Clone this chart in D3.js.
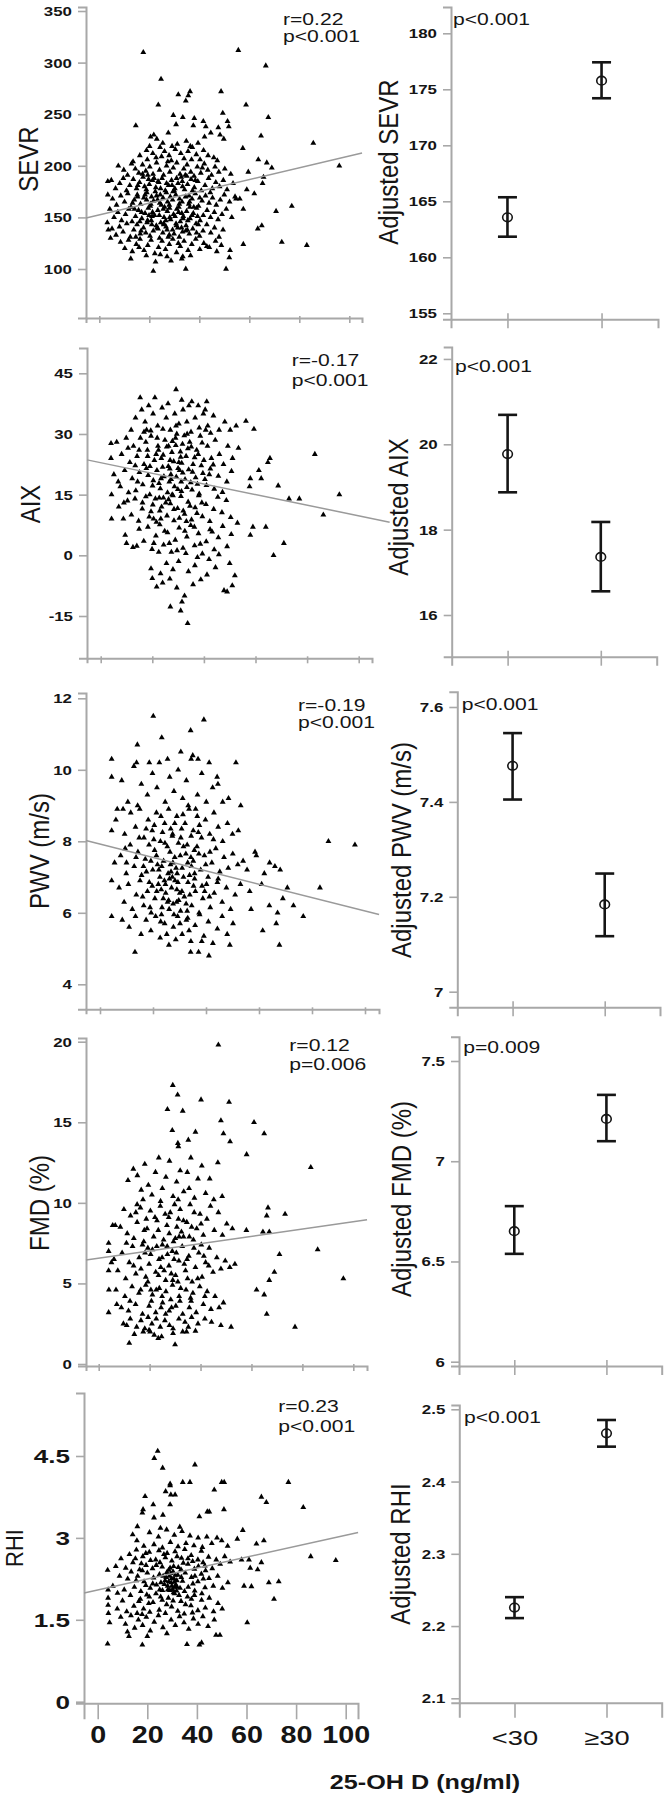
<!DOCTYPE html>
<html><head><meta charset="utf-8">
<script src="https://cdn.jsdelivr.net/npm/d3@7"></script>
<style>body{margin:0;background:#fff} svg{display:block}</style>
</head><body><svg id="c" width="670" height="1800"></svg>
<script>
// ---------------- DATA ----------------
const xTicks = [0, 20, 40, 60, 80, 100];
const categories = ["<30", "≥30"];
const yTitles = ["SEVR", "AIX", "PWV (m/s)", "FMD (%)", "RHI"];
const adjTitles = ["Adjusted SEVR", "Adjusted AIX", "Adjusted PWV (m/s)", "Adjusted FMD (%)", "Adjusted RHI"];
const rStats = ["r=0.22", "r=-0.17", "r=-0.19", "r=0.12", "r=0.23"];
const pScatter = ["p<0.001", "p<0.001", "p<0.001", "p=0.006", "p<0.001"];
const pAdjusted = ["p<0.001", "p<0.001", "p<0.001", "p=0.009", "p<0.001"];
const xTitle = "25-OH D (ng/ml)";

const sevrTicks = [100, 150, 200, 250, 300, 350];
const aixTicks = [-15, 0, 15, 30, 45];
const pwvTicks = [4, 6, 8, 10, 12];
const fmdTicks = [0, 5, 10, 15, 20];
const rhiTicks = [0, 1.5, 3, 4.5];
const sevrAdjTicks = [155, 160, 165, 170, 175, 180];
const aixAdjTicks = [16, 18, 20, 22];
const pwvAdjTicks = [7, 7.2, 7.4, 7.6];
const fmdAdjTicks = [6, 6.5, 7, 7.5];
const rhiAdjTicks = [2.1, 2.2, 2.3, 2.4, 2.5];

const sevrFit = [[-5.3, 149.4], [105.1, 212.4]];
const aixFit = [[-5.3, 23.6], [112, 8.2]];
const pwvFit = [[-5.3, 8.02], [105.3, 5.95]];
const fmdFit = [[-5, 6.45], [105.4, 8.95]];
const rhiFit = [[-5.5, 1.99], [105, 3.1]];

const sevrAdjMean = [163.57, 175.77], sevrAdjLow = [161.84, 174.2], sevrAdjHigh = [165.36, 177.41];
const aixAdjMean = [19.77, 17.36], aixAdjLow = [18.875, 16.555], aixAdjHigh = [20.69, 18.18];
const pwvAdjMean = [7.476, 7.184], pwvAdjLow = [7.405, 7.117], pwvAdjHigh = [7.545, 7.249];
const fmdAdjMean = [6.651, 7.211], fmdAdjLow = [6.538, 7.1], fmdAdjHigh = [6.776, 7.331];
const rhiAdjMean = [2.2256, 2.4668], rhiAdjLow = [2.211, 2.4483], rhiAdjHigh = [2.24, 2.4852];

const sevrPoints = [
[17.6,310],[55.6,312],[66.6,297],[24.7,284],[48.7,272],[36.3,272],[35.6,268],[31.6,269],[23.6,259],[34.6,263],[58.7,259],[49.4,251],[67.6,247],[29.6,249],[33.4,247],[14.6,239],[38,246],[41.6,243],[37.6,239],[30.7,240],[42.6,238],[47.6,237],[51.3,243],[51.8,238],[64.7,229],[85.6,222],[57.4,217],[96,200],[63.6,206],[67,203],[69,198],[59.6,194],[65.7,189],[65.3,183],[59,177],[62,173],[54.7,168],[56.2,168],[77,161],[70.7,156],[57.6,158],[65,142],[63.4,139],[73,126],[83,123],[57.6,124],[52.3,118],[52,111],[50.7,100],[34.6,100],[21.6,98],[22.5,107],[28.7,108],[12.6,110],[33,110],[33.4,112],[3.2,145],[3.6,138],[3.4,185],[3.4,172],[4.5,130],[43,122],[47,117],
[20.5,228],[21.8,230],[23,226],[27.6,232],[31.2,221],[34.8,224],[36.4,219],[39.5,222],[42.1,228],[44.6,232],[48.3,230],[49.8,226],[25.4,222],[29.1,219],
[13.5,204],[16.2,210],[18.9,215],[21.4,212],[22.7,208],[24.3,218],[26.1,214],[27.9,210],[30.4,216],[32.6,212],[33.9,207],[35.5,214],[37.2,218],[38.8,211],[40.3,206],[41.7,215],[43.5,210],[45.8,208],[47.2,205],[20.1,219],[28.8,205],[36.9,206],[19.2,206],[24.9,209],
[7.6,200],[9.8,196],[11.3,191],[12.9,202],[14.4,197],[15.8,193],[17.3,201],[18.6,195],[20.2,199],[21.5,192],[22.9,203],[24.1,196],[25.7,191],[26.9,200],[28.2,194],[29.6,198],[31,203],[32.3,192],[33.8,197],[35.1,201],[36.6,194],[37.9,190],[39.2,199],[40.6,193],[42,202],[43.4,196],[44.9,191],[46.3,199],[47.8,194],[50.2,197],[52.6,192],[19.4,191],[27.4,204],[34.4,191],[41.2,198],
[4.8,186],[6.5,178],[8.2,183],[9.6,188],[10.9,176],[12.2,181],[13.6,187],[14.9,178],[16.1,184],[17.5,189],[18.8,177],[20,182],[21.3,186],[22.6,179],[23.8,184],[25.1,188],[26.4,176],[27.7,181],[28.9,186],[30.2,178],[31.5,183],[32.8,189],[34.1,177],[35.3,182],[36.7,187],[38,179],[39.4,185],[40.8,176],[42.3,181],[43.7,188],[45.2,178],[46.6,184],[48.1,180],[49.6,186],[51.1,177],[53.5,183],[15.4,181],[24.5,178],[33.2,185],[29.9,176],[19.7,187],[37.3,176],
[5.3,168],[6.9,162],[8.6,171],[10.1,165],[11.4,173],[12.7,160],[14,167],[15.2,172],[16.5,163],[17.8,169],[19,174],[20.4,161],[21.7,166],[22.9,171],[24.2,164],[25.5,169],[26.8,174],[28,162],[29.3,167],[30.6,172],[31.8,160],[33.1,165],[34.5,170],[35.8,163],[37.1,168],[38.4,173],[39.7,161],[41.1,166],[42.5,171],[43.9,164],[45.3,169],[46.8,162],[48.4,167],[50,172],[52.1,165],[54.3,170],[13.3,164],[18.3,172],[23.3,167],[27.3,165],[32.1,168],[36.2,160],[40.2,169],[44.4,174],[20.9,170],[26.1,160],
[4.2,158],[5.9,150],[7.4,155],[8.9,147],[10.5,153],[11.8,158],[13.1,146],[14.5,151],[15.7,157],[17,149],[18.3,154],[19.6,159],[20.8,147],[22.1,152],[23.4,157],[24.6,145],[25.9,150],[27.2,156],[28.5,148],[29.7,153],[31,158],[32.4,146],[33.6,151],[34.9,156],[36.3,149],[37.6,154],[38.9,159],[40.3,147],[41.6,152],[43.1,157],[44.5,150],[46,155],[47.5,148],[49.1,153],[50.8,158],[53,150],[16.2,146],[21.3,155],[26.6,147],[30.3,151],[35.4,147],[39.3,151],[14.1,158],[24,152],[28.1,159],[33,154],
[5.1,139],[6.7,133],[8.1,141],[9.5,136],[11,144],[12.4,131],[13.8,138],[15.1,143],[16.4,134],[17.7,140],[19.1,145],[20.3,132],[21.6,137],[22.8,142],[24.1,130],[25.4,135],[26.7,141],[28,133],[29.3,138],[30.7,144],[32,131],[33.3,136],[34.7,142],[36,134],[37.4,139],[38.7,144],[40.1,132],[41.5,137],[43,143],[44.6,135],[46.1,140],[47.9,131],[49.5,138],[18.6,135],[23.5,139],[27.6,131],[31.4,140],[35.2,138],[14.6,131],[21,143],[25.8,144],[29.9,134],
[8.5,126],[10.2,120],[11.7,128],[13.2,117],[14.8,124],[16.3,129],[17.9,118],[19.4,123],[20.7,128],[22.2,115],[23.7,121],[25.1,127],[26.5,119],[28,124],[29.4,129],[30.9,116],[32.4,122],[33.9,127],[35.5,118],[37,124],[38.6,129],[40.2,119],[41.8,125],[44,121],[46.5,127],[48.8,123],[18.8,113],[24.4,114],[27.1,112],[31.6,125],[36.5,113],[15.9,121],
[15.3,170],[16.9,155],[18.1,180],[19.3,147],[20.6,163],[21.9,188],[23.1,140],[24.4,172],[25.6,158],[26.9,183],[28.2,150],[29.5,175],[30.8,142],[32,163],[33.3,180],[34.6,137],[35.9,171],[37.1,152],[38.4,186],[39.6,143],[16.7,137],[18.9,167],[21.1,151],[23.5,185],[25.8,143],[28.4,170],[30.9,188],[33.5,149],[36.1,165],[38.9,135],[17.3,192],[22.4,175],[27.1,138],[31.7,155],[35,190],[19.9,152],[24.8,162],[29.1,181],[32.9,140],[37.8,160]
];

const aixPoints = [
[29.2,41],[31.4,38.4],[15.3,39],[21,39],[35.3,38],[37.8,37],[41.1,38],[40.5,36],[56.3,33.2],[59.4,31.2],[83,25],[65.6,24],[64.8,23],[61.3,21],[62.2,19],[58,19],[57.7,17],[68.8,17.2],[73,14],[77,14],[92.5,15],[86.3,10],[53,8],[59,7],[64,7],[58,5],[71,3],[67,0],[52,-5],[51,-7.5],[49,-9],[47.8,-8.7],[50,-2],[33.7,-16.8],[27,-12.7],[31,-13.7],[31.5,-11.5],[32.5,-10],[21.7,-7.8],[24,-6.8],[20,-5.7],[19.5,-3.3],[4.2,9],[4.2,15],[4,24],[4,27.7],[10,3],[14,2.3],[9,13],[6.8,18.2],
[25.5,-2],[28,-3.5],[30.2,-1.5],[34,-4],[36.5,-2.5],[38.8,-6],[23.2,-4.5],[42,-1],[44.5,-3],[26.8,-5.8],[33,0.5],[37.5,-0.5],[22.5,0.8],[45.8,0.2],[29.5,-8],[35.8,-7.2],[41.2,-4.8],
[13.5,34],[15.9,36],[17.2,33],[18.6,37],[20.3,35],[22.1,32],[23.8,36.5],[25.4,34],[27,31],[28.7,35],[30.3,32.5],[31.9,36],[33.4,33],[35,30.5],[36.6,34],[38.2,31.5],[39.8,35],[41.5,32],[43.7,34.5],[45.9,31],[48.1,33],[50.2,31],[52.5,32],[11.8,31],[16.8,30.5],[26.1,37.5],[29.5,30],[34.2,37],[19.4,30.8],[42.6,30.2],
[6.2,28],[8.1,25],[9.9,29],[11.3,23],[12.7,27],[14.1,24.5],[15.4,29],[16.8,22.5],[18.1,26],[19.5,29.5],[20.8,23.5],[22.2,27],[23.5,24],[24.9,28.5],[26.2,22],[27.6,25.5],[29,29],[30.3,23],[31.7,27.5],[33.1,24.5],[34.5,28],[35.8,22.5],[37.2,26],[38.6,29.5],[40,23.5],[41.4,27],[42.9,24],[44.4,28.5],[46,25],[47.6,22.5],[49.3,27],[51.1,24],[53.4,26.5],[13.4,22.2],[17.5,28],[21.5,25],[25.6,26.8],[28.3,23.2],[32.4,29.6],[36.4,24.2],[39.3,27.8],[43.6,22.4],[10.6,26.5],[30.9,25.6],[27.8,28.2],[24.2,24.8],
[5.1,20],[7.6,17],[9.3,21],[10.8,15.5],[12.2,19],[13.6,16],[15,20.5],[16.3,17.5],[17.7,21.5],[19,15],[20.4,18.5],[21.8,21],[23.1,16.5],[24.5,19.5],[25.9,15.5],[27.2,20],[28.6,17],[30,21.5],[31.3,15.8],[32.7,18.8],[34.1,21.2],[35.4,16.2],[36.8,19.2],[38.2,15.2],[39.6,20.3],[41,17.3],[42.5,21.4],[44,16.4],[45.6,19.6],[47.2,15.6],[48.9,18.2],[50.7,20.8],[14.3,18.2],[18.4,19.8],[22.6,17.8],[26.6,18.2],[29.3,19.4],[33.4,16.8],[37.5,17.6],[40.4,18.8],[24,21.8],[31.8,20.4],
[7,12],[8.8,9],[10.4,13.5],[11.9,10],[13.3,14],[14.7,8.5],[16.1,11.5],[17.5,14.5],[18.8,9.5],[20.2,12.5],[21.6,8.2],[22.9,11],[24.3,14.2],[25.7,9.8],[27,12.8],[28.4,8.6],[29.8,11.6],[31.1,14.6],[32.5,10.2],[33.9,13.2],[35.2,8.8],[36.6,11.8],[38,14.8],[39.4,9.6],[40.8,12.6],[42.3,8.4],[43.8,11.4],[45.4,14.4],[47,10.6],[48.7,13.6],[50.4,9.4],[19.5,10.8],[26.3,13.8],[30.5,9.2],[34.6,12.2],[37.3,10.4],[23.6,12],[28,14.8],
[9.5,5],[12.5,2],[14.9,6.5],[16.7,3.5],[18.3,7],[19.9,1.5],[21.4,4.8],[22.9,7.6],[24.4,2.6],[25.9,5.6],[27.4,0.8],[28.9,3.8],[30.4,6.8],[31.9,1.8],[33.4,4.6],[34.9,7.4],[36.4,2.4],[37.9,5.4],[39.4,0.4],[40.9,3.4],[42.4,6.4],[44,1.4],[45.6,4.4],[47.3,7.2],[49,2.2],[50.6,5.2],[26.6,3],[32.6,6],[38.6,2.8],[43.2,5.8],[20.6,3],[29.6,1.2],
[22.4,26],[26.9,23.5],[29.1,27.2],[31.4,22.8],[27.3,18.8],[25.2,13],[23.3,9],[33.8,26.4],[35.6,20.6],[21.2,14],[29.9,16.3],[31,24.3],
[14.9,26],[16.2,13],[17.8,31],[19.1,22],[20.5,9],[21.9,29],[23.4,19],[24.8,6],[26.3,27],[27.7,15],[29.2,32],[30.6,21],[32,11],[33.5,30],[34.9,18],[36.3,7],[37.8,25],[39.2,13],[40.7,31],[42.1,20],[18.2,24.5],[22.7,14.2],[26.8,21.4],[31.2,18.2],[35.1,26.8],[39,22.2],[28.4,11.4],[33.2,8.4],[24.1,31.2],[20.1,17.2]
];

const pwvPoints = [
[20.1,11.5],[39.2,11.4],[34.2,11.1],[23.3,10.9],[14.1,10.7],[4.4,10.3],[4.4,9.8],[8.2,9.7],[35,10.4],[34.4,10.3],[41.2,10.2],[51.3,10.2],[44.2,9.8],[44.5,9.6],[53.1,9.0],[4.4,8.3],[4.4,6.9],[4.4,5.9],[9.5,7.8],[10,7.4],[86.2,8.0],[96.2,7.9],[83,6.7],[76.7,5.9],[73,6.2],[70.7,6.7],[69,6.4],[67,6.0],[66.5,5.7],[67.7,5.1],[64,7.4],[66,7.3],[68,7.2],[62,7.1],[61,6.8],[58.5,7.7],[59,7.6],[61.4,5.5],[63.9,6.2],[13.2,4.9],[34.2,4.9],[37.2,4.9],[41.1,4.8],[49,5.1],[57,6.1],[55.5,7.2],[56.5,6.6],
[12.8,10.1],[15.6,9.6],[17.9,9.3],[19.8,9.9],[21.5,9.5],[22.4,10.2],[24.6,9.1],[26.3,9.8],[27.9,9.4],[29.5,10],[31.2,9.2],[32.6,9.7],[36.8,9.3],[38.4,9.9],[40.1,9.1],[42.5,9.5],[46.3,9.1],[48.5,9.2],[10.5,9.1],[8.7,8.9],[6.5,8.9],[14.2,9.0],[13.8,10.2],[25.5,10.3],[30.5,10.5],[33.3,9],[37,10.3],[18.6,10.2],
[6,8.6],[9.3,8.2],[11.6,8.8],[13.4,8.4],[15,8.9],[16.6,8.1],[18.2,8.6],[19.7,8.3],[21.3,8.8],[22.8,8.0],[24.4,8.5],[25.9,8.9],[27.4,8.2],[29,8.7],[30.5,8.1],[32.1,8.5],[33.6,8.9],[35.2,8.3],[36.7,8.7],[38.3,8.1],[39.8,8.6],[41.4,8.2],[43,8.8],[44.6,8.4],[46.3,8.0],[48.1,8.5],[50,8.2],[52.2,8.3],[20.5,8.45],[26.7,8.35],[31.3,8.75],[34.4,8.15],[28.2,8.5],[23.6,8.25],[17.4,8.35],[37.5,8.45],
[5.5,7.4],[7.8,7.6],[9.9,7.1],[11.4,7.9],[12.9,7.3],[14.3,7.7],[15.7,7.05],[17.1,7.5],[18.5,7.9],[19.9,7.2],[21.3,7.6],[22.6,7.0],[24,7.45],[25.4,7.85],[26.8,7.15],[28.2,7.55],[29.6,7.95],[31,7.25],[32.4,7.65],[33.8,7.05],[35.2,7.45],[36.6,7.85],[38,7.2],[39.4,7.6],[40.8,7.0],[42.2,7.4],[43.7,7.8],[45.2,7.15],[46.8,7.55],[48.4,7.25],[50.1,7.65],[52,7.35],[54,7.45],[16.4,7.3],[20.6,7.75],[23.3,7.3],[27.5,7.4],[30.3,7.6],[34.5,7.3],[37.3,7.65],[41.5,7.7],[25.7,7.1],[32.9,7.9],[29.1,7.1],[19.2,7.45],[13.6,7.55],
[7.2,6.7],[9.1,6.3],[10.7,6.8],[12.2,6.1],[13.7,6.5],[15.1,6.9],[16.5,6.2],[17.9,6.6],[19.3,6.0],[20.7,6.4],[22,6.8],[23.4,6.15],[24.8,6.55],[26.2,6.95],[27.6,6.25],[29,6.65],[30.4,6.05],[31.8,6.45],[33.2,6.85],[34.6,6.2],[36,6.6],[37.4,6.0],[38.8,6.4],[40.2,6.8],[41.6,6.15],[43.1,6.55],[44.6,6.95],[46.1,6.3],[47.7,6.7],[49.3,6.1],[51,6.5],[53,6.8],[21.4,6.6],[25.5,6.3],[28.3,6.9],[32.5,6.25],[35.3,6.75],[39.5,6.6],[18.6,6.85],[23.9,6.4],[27,6.7],[30.9,6.6],[26.1,6.1],[29.7,6.35],[33.9,6.5],[24.3,6.9],
[8.4,5.8],[11,5.6],[13.4,5.9],[15.5,5.4],[17.4,5.8],[19.2,5.5],[21,5.9],[22.7,5.3],[24.4,5.7],[26,5.1],[27.7,5.6],[29.3,5.9],[31,5.4],[32.6,5.8],[34.3,5.2],[35.9,5.65],[37.6,5.95],[39.2,5.35],[40.9,5.75],[42.6,5.15],[44.3,5.55],[46.1,5.9],[48,5.4],[50.2,5.7],[25.2,5.4],[28.6,5.25],[33.6,5.5],[38.4,5.2],[23.2,5.95],[30.2,5.7],
[22.2,7.2],[24.7,6.8],[27.3,7.0],[28.9,6.3],[31.5,7.0],[33.1,7.4],[35.7,7.1],[26.4,7.7],[23,8.7],[36.1,8.9],
[14.8,8.1],[16.1,6.45],[17.5,7.15],[18.9,6.15],[20.3,8.05],[21.7,7.35],[23.1,6.65],[24.5,7.95],[25.9,6.35],[27.3,8.15],[28.7,7.25],[30.1,6.55],[31.5,7.85],[32.9,6.05],[34.3,7.55],[35.7,6.95],[37.1,8.25],[38.5,6.75],[39.9,7.35],[41.3,6.45],[42.8,8.05],[44.3,6.85],[22.9,5.75],[27.9,5.95],[33.1,5.85],[19.7,6.75],[26.6,7.35],[30.8,8.35],[35.6,7.75],[29.4,6.85]
];

const fmdPoints = [
[47,19.8],[29.1,17.3],[31,16.7],[40.2,16.4],[51.2,16.25],[27,15.8],[33,15.7],[48,15.1],[61,15],[65,14.3],[28.9,14.5],[38,14.4],[49,14.3],[51.6,13.8],[35.2,13.9],[31.1,13.7],[31.3,13.5],[58.1,13.0],[83.3,12.2],[73.2,9.3],[66.5,9.7],[66,9.2],[58,8.3],[64.5,8.2],[67,8.2],[86,7.1],[71,6.8],[69,5.7],[67,5.2],[96.1,5.3],[62,4.6],[65,4.3],[66,3.1],[77.1,2.3],[48,2.4],[52,2.3],[12,1.3],[30,1.2],[14,1.85],[11,2.4],[23.4,1.6],[24.7,1.7],[29.2,2.2],[29.2,1.9],[33,2],[34.5,2],[20.2,2],[3.9,7.5],[3.9,7],[3.9,5.8],[4.0,4.6],[3.9,3.2],[7.1,3.7],[6,6.5],[5.5,8.6],
[11.5,11.4],[13.6,12.1],[15.2,11.7],[16.7,10.8],[18.1,12.4],[19.5,11.1],[20.9,10.5],[22.3,11.9],[23.6,12.8],[25,10.9],[26.4,11.6],[27.8,12.6],[29.2,10.4],[30.6,11.3],[32,12],[33.4,10.7],[34.8,11.9],[36.2,12.8],[37.6,10.3],[39,11.5],[40.5,12.3],[42,10.6],[43.6,11.5],[45.2,10.2],[46.8,12.5],[48.5,10.4],[17.4,10.2],[24.3,10.1],[31.2,10.2],[35.5,10.9],
[6.5,8.6],[8.5,8.5],[9.9,9.6],[11.2,8.1],[12.5,9.2],[13.8,7.8],[15.1,8.8],[16.4,9.7],[17.7,7.6],[19,8.4],[20.3,9.5],[21.6,7.9],[22.9,8.9],[24.2,9.8],[25.5,7.7],[26.8,8.6],[28.1,9.4],[29.4,7.6],[30.7,8.5],[32,9.6],[33.3,7.9],[34.6,8.8],[35.9,9.9],[37.2,7.7],[38.5,8.4],[39.8,9.3],[41.1,8.0],[42.5,9.0],[43.9,9.8],[45.4,8.3],[47,9.4],[48.6,8.0],[50.3,8.7],[52.5,8.4],[14.6,9.4],[18.7,9.0],[23.4,8.3],[27.5,9.1],[31.6,7.9],[36.5,8.5],[40.2,8.7],[29.8,9.9],
[5,6.3],[7.5,5.8],[9.2,6.9],[10.6,5.3],[12,6.3],[13.3,7.3],[14.6,5.6],[15.9,6.6],[17.2,7.4],[18.5,5.4],[19.8,6.2],[21.1,7.1],[22.4,5.7],[23.7,6.5],[25,7.4],[26.3,5.2],[27.6,6.1],[28.9,7],[30.2,5.5],[31.5,6.4],[32.8,7.3],[34.1,5.8],[35.4,6.7],[36.7,5.1],[38,6],[39.3,6.9],[40.6,5.4],[42,6.3],[43.4,7.2],[44.9,5.7],[46.4,6.6],[48,5.9],[49.7,6.4],[51.5,6],[53.5,6.2],[16.6,5.9],[20.4,6.8],[24.4,6],[29.6,6.5],[33.6,6.2],[37.4,7.2],[41.3,6.7],[27,6.8],[31.1,5.1],[25.7,5.8],
[6.8,4.6],[8.9,3.5],[10.3,4.2],[11.7,3.3],[13.1,4.8],[14.5,3.7],[15.8,4.4],[17.2,3.1],[18.5,4.9],[19.8,3.6],[21.1,4.3],[22.4,3.2],[23.8,4.7],[25.1,3.8],[26.4,4.5],[27.7,3.3],[29,4.9],[30.3,3.6],[31.6,4.2],[33,3.1],[34.3,4.6],[35.6,3.5],[37,4.4],[38.3,3.2],[39.7,4.8],[41.1,3.7],[42.6,4.5],[44.1,3.4],[45.7,4.2],[47.3,3.5],[49,3.8],[20.5,4.6],[28.3,4.0],[24.5,3.5],[32.2,4.7],[36.3,3.9],
[9.7,2.5],[12.4,2.8],[14.9,2.3],[16.6,2.7],[18.1,2.2],[19.4,2.9],[20.9,2.5],[22.6,2.8],[24.2,2.3],[26,2.7],[27.8,2.4],[31.5,2.8],[33.9,2.6],[36.5,2.9],[39,2.5],[41.7,2.8],[44.3,2.6],[17.5,2.0],[19.8,2.1],[21.8,1.8],[38,2.05],[35.2,2.3],
[22.8,7.3],[26.1,9.3],[28.5,5.6],[30.1,7.8],[32.5,8.2],[34.9,5.3],[19.3,7.2],[24.9,4.2],
[10.9,7.5],[12.3,3.9],[13.7,6.1],[15.1,9.9],[16.5,4.6],[17.9,8.3],[19.3,5.1],[20.7,3.9],[22.1,9.1],[23.5,5.5],[24.9,6.6],[26.3,3.1],[27.7,8.1],[29.1,5.2],[30.5,6.9],[31.9,3.9],[33.3,8.9],[34.7,6.5],[36.1,4.1],[37.5,9.4],[38.9,5.3],[40.3,7.4],[41.7,4.2],[43.2,6.1],[18.2,6.9],[22.6,4.6],[26.9,7.3],[31.3,9.0],[35.6,7.9],[28.6,3.5]
];

const rhiPoints = [
[24.2,4.59],[22.8,4.46],[26.2,4.28],[39.2,4.34],[29.2,3.99],[29.2,3.96],[34.3,4.02],[37.2,4.02],[50,4.02],[51,4.02],[76.9,4.02],[47,3.88],[27.4,3.85],[29.5,3.79],[31.2,3.79],[19.1,3.76],[29.2,3.61],[22.4,3.61],[66,3.75],[68,3.65],[82.9,3.56],[18.3,3.52],[18,3.46],[44.2,3.48],[45,3.48],[50.9,3.52],[22.7,3.37],[26.3,3.42],[41,3.39],[16,3.21],[14.1,3.06],[58.5,3.14],[56.3,2.98],[64,2.89],[67,2.95],[85.9,2.66],[96,2.59],[58,2.6],[61,2.6],[61.5,2.45],[66,2.55],[64.5,2.42],[69,2.18],[73,2.2],[59,2.12],[62,2.11],[71.1,1.88],[60.3,1.45],[4,2.41],[4.2,2.05],[4.2,1.9],[4.2,1.77],[4.3,1.62],[4.8,1.45],[4,1.06],[18,1.04],[20,1.2],[36,1.05],[41,1.04],[41.9,1.08],[47.7,1.22],[49.3,1.22],[12.6,1.2],[12,1.28],[8,1.99],
[15.8,2.95],[18.6,2.85],[20.9,3.1],[22.7,2.88],[24.5,3.02],[26.1,2.82],[27.8,3.15],[29.3,2.92],[30.9,3.05],[32.4,2.84],[34,3.12],[35.6,2.9],[37.2,3.04],[38.8,2.86],[40.5,3.0],[42.2,2.83],[44,3.02],[46,2.9],[48.1,3.0],[50,2.95],[52.4,2.85],[33.1,3.2],[25.3,3.18],
[7.3,2.48],[9.4,2.62],[11.3,2.45],[12.8,2.7],[14.2,2.55],[15.6,2.78],[16.9,2.42],[18.2,2.66],[19.5,2.5],[20.8,2.74],[22.1,2.44],[23.4,2.6],[24.7,2.77],[26,2.47],[27.3,2.64],[28.6,2.41],[29.9,2.58],[31.2,2.75],[32.5,2.46],[33.8,2.63],[35.1,2.79],[36.4,2.52],[37.7,2.68],[39,2.43],[40.4,2.6],[41.8,2.76],[43.2,2.49],[44.7,2.65],[46.2,2.44],[47.8,2.6],[49.4,2.52],[51.2,2.66],[53.4,2.56],[17.6,2.53],[21.3,2.59],[25.1,2.55],[28,2.72],[30.6,2.48],[34.5,2.54],[38.3,2.57],[42.5,2.55],[26.7,2.7],[32,2.66],
[6.1,2.12],[8.8,2.3],[10.7,2.05],[12.1,2.25],[13.5,2.38],[14.8,2.1],[16.1,2.3],[17.4,2.02],[18.7,2.2],[20,2.36],[21.2,2.08],[22.5,2.27],[23.7,2.14],[24.9,2.33],[26.1,2.04],[27.2,2.22],[28.2,2.12],[28.9,2.3],[29.6,2.18],[30.2,2.06],[30.8,2.25],[31.5,2.14],[32.3,2.32],[33.2,2.08],[34.2,2.21],[35.3,2.36],[36.5,2.1],[37.8,2.28],[39.1,2.03],[40.4,2.2],[41.8,2.34],[43.3,2.09],[44.9,2.26],[46.6,2.12],[48.4,2.3],[50.3,2.08],[52.5,2.18],[29.1,2.04],[30.4,2.38],[31.9,2.22],[27.9,2.37],[33.7,2.28],[25.5,2.18],[19.4,2.13],[15.5,2.22],[38.4,2.16],[42.6,2.25],[29.8,2.26],[31.1,2.1],[28.6,2.2],
[7.9,1.7],[10,1.85],[11.7,1.65],[13.2,1.95],[14.6,1.75],[15.9,1.62],[17.2,1.88],[18.5,1.7],[19.8,1.96],[21,1.64],[22.3,1.82],[23.5,1.98],[24.8,1.68],[26,1.86],[27.3,1.62],[28.5,1.9],[29.8,1.74],[31,1.98],[32.3,1.66],[33.6,1.84],[34.9,1.61],[36.2,1.92],[37.6,1.76],[39,1.95],[40.4,1.67],[41.9,1.86],[43.4,1.72],[45,1.9],[46.7,1.65],[48.5,1.8],[50.2,1.7],[17.9,1.6],[20.6,1.8],[25.4,1.92],[30.4,1.85],[35.4,1.78],[38.2,1.63],
[9.3,1.55],[11.2,1.42],[13.4,1.58],[14.9,1.35],[16.4,1.5],[18.1,1.4],[19.6,1.55],[21.2,1.3],[22.8,1.46],[24.5,1.58],[26.3,1.36],[27.9,1.25],[29.6,1.5],[31.3,1.4],[33,1.56],[34.8,1.45],[36.7,1.33],[38.6,1.52],[40.5,1.42],[42.4,1.56],[44.5,1.38],[47,1.5],
[15.2,2.62],[16.6,1.84],[18,2.4],[19.4,2.72],[20.8,1.92],[22.2,2.16],[23.6,2.5],[25,2.05],[26.4,2.3],[27.8,1.78],[29.2,2.45],[29.9,2.12],[30.6,2.0],[31.3,2.32],[32,2.1],[32.8,1.95],[33.6,2.42],[35,2.02],[36.4,2.62],[37.8,1.88],[39.2,2.3],[40.6,2.48],[42,1.98],[43.5,2.4],[28.3,2.05],[29.5,2.35],[30.9,2.19],[27.6,2.28],[31.8,2.03],[26.9,2.15]
];

// ---------------- LAYOUT ----------------
const rows = [
  { pts: sevrPoints, fit: sevrFit, yt: sevrTicks, adj: [sevrAdjMean, sevrAdjLow, sevrAdjHigh], at: sevrAdjTicks,
    L: {ax: 86, top: 7, bot: 318, right: 362, x0: 99.3, x100: 349.3, yA: [100, 269], yB: [350, 11], tx: 38, ty: 159, rx: 283, r1: 25, r2: 42},
    R: {ax: 451, top: 7, bot: 319.3, right: 658, yA: [155, 313.3], yB: [180, 33.3], tx: 398, ty: 162, px: 453, py: 25} },
  { pts: aixPoints, fit: aixFit, yt: aixTicks, adj: [aixAdjMean, aixAdjLow, aixAdjHigh], at: aixAdjTicks,
    L: {ax: 87, top: 348, bot: 658.3, right: 372, x0: 100.7, x100: 358.7, yA: [-15, 616], yB: [45, 373.3], tx: 40, ty: 504, rx: 291.7, r1: 366, r2: 386},
    R: {ax: 451.7, top: 347, bot: 656.7, right: 656.7, yA: [16, 615], yB: [20, 444.3], tx: 408, ty: 507, px: 455, py: 371.7} },
  { pts: pwvPoints, fit: pwvFit, yt: pwvTicks, adj: [pwvAdjMean, pwvAdjLow, pwvAdjHigh], at: pwvAdjTicks,
    L: {ax: 86, top: 693, bot: 1009.3, right: 379, x0: 100, x100: 365, yA: [4, 984.3], yB: [12, 698.3], tx: 49, ty: 851, rx: 298, r1: 710.5, r2: 728},
    R: {ax: 457.3, top: 691.7, bot: 1007.3, right: 660, yA: [7, 991.7], yB: [7.6, 707], tx: 411, ty: 850, px: 461.7, py: 710} },
  { pts: fmdPoints, fit: fmdFit, yt: fmdTicks, adj: [fmdAdjMean, fmdAdjLow, fmdAdjHigh], at: fmdAdjTicks,
    L: {ax: 86, top: 1038, bot: 1366, right: 367, x0: 98.7, x100: 353.3, yA: [0, 1364], yB: [20, 1041.7], tx: 49, ty: 1203, rx: 289.3, r1: 1050.7, r2: 1070},
    R: {ax: 459, top: 1036.7, bot: 1366, right: 661.7, yA: [6, 1361.7], yB: [7.5, 1061], tx: 411, ty: 1199, px: 463.3, py: 1053} },
  { pts: rhiPoints, fit: rhiFit, yt: rhiTicks, adj: [rhiAdjMean, rhiAdjLow, rhiAdjHigh], at: rhiAdjTicks,
    L: {ax: 84, top: 1393, bot: 1703.3, right: 358, x0: 97.7, x100: 345.7, yA: [0, 1701.7], yB: [4.5, 1456], tx: 23, ty: 1548, rx: 278.3, r1: 1411.7, r2: 1431.7},
    R: {ax: 459.3, top: 1405, bot: 1702.7, right: 661.7, yA: [2.1, 1698.3], yB: [2.5, 1409.3], tx: 410, ty: 1554, px: 464, py: 1423} }
];

const FONT = '"Liberation Sans", Arial, Helvetica, sans-serif';
const AXIS = "#a8a8a8";
const INK = "#151515";
const svg = d3.select("#c");

function styleAxis(g) {
  g.attr("font-family", null).attr("font-size", null);
  g.select(".domain").attr("stroke", AXIS).attr("stroke-width", 2);
  g.selectAll(".tick line").attr("stroke", AXIS).attr("stroke-width", 1.6);
}
function leftLabels(g, size, s, off) {
  g.selectAll(".tick text").each(function () {
    d3.select(this).attr("x", null).attr("dy", "0.36em").attr("text-anchor", "end")
      .attr("font-family", FONT).attr("font-size", size).attr("font-weight", "bold").attr("fill", INK)
      .attr("transform", `translate(${-off},0) scale(${s},1)`);
  });
}
function bottomLabels(g, size, weight, s, off) {
  g.selectAll(".tick text").each(function () {
    d3.select(this).attr("y", null).attr("dy", null).attr("text-anchor", "middle")
      .attr("font-family", FONT).attr("font-size", size).attr("font-weight", weight).attr("fill", INK)
      .attr("transform", `translate(0,${off}) scale(${s},1)`);
  });
}
function hText(x, y, str, size, weight, s, anchor) {
  svg.append("text").attr("transform", `translate(${x},${y}) scale(${s},1)`)
    .attr("text-anchor", anchor || "start").attr("font-family", FONT).attr("font-size", size)
    .attr("font-weight", weight).attr("fill", INK).text(str);
}
function vText(x, y, str, size) {
  svg.append("text").attr("transform", `translate(${x},${y}) rotate(-90) scale(1,1.12)`)
    .attr("text-anchor", "middle").attr("font-family", FONT).attr("font-size", size)
    .attr("fill", INK).text(str);
}
function linY(L) {
  const y = d3.scaleLinear().domain([L.yA[0], L.yB[0]]).range([L.yA[1], L.yB[1]]);
  return y.domain([y.invert(L.bot), y.invert(L.top)]).range([L.bot, L.top]);
}

const tri = d3.symbol(d3.symbolTriangle, 15)();

rows.forEach((row, i) => {
  const last = i === rows.length - 1;
  // ---- scatter panel ----
  const L = row.L;
  const xs0 = d3.scaleLinear().domain([0, 100]).range([L.x0, L.x100]);
  const x = d3.scaleLinear().domain([xs0.invert(L.ax), xs0.invert(L.right)]).range([L.ax, L.right]);
  const y = linY(L);

  const gx = svg.append("g").attr("transform", `translate(0,${L.bot})`)
    .call(d3.axisBottom(x).tickValues(xTicks).tickSizeOuter(0).tickSize(last ? 16 : 5).tickFormat(d => last ? String(d) : ""));
  styleAxis(gx);
  gx.selectAll(".tick line").attr("y1", last ? 1 : -2);
  if (last) bottomLabels(gx, 23, "bold", 1.25, 40);

  const gy = svg.append("g").attr("transform", `translate(${L.ax},0)`)
    .call(d3.axisLeft(y).tickValues(row.yt).tickSizeOuter(0).tickSize(8).tickFormat(d => String(d)));
  styleAxis(gy);
  if (last) leftLabels(gy, 18, 1.45, 14); else leftLabels(gy, 12.5, 1.35, 14);

  svg.append("g").selectAll("path").data(row.pts).join("path")
    .attr("d", tri).attr("fill", "#000")
    .attr("transform", d => `translate(${x(d[0]).toFixed(2)},${y(d[1]).toFixed(2)})`);

  svg.append("path").attr("d", d3.line().x(d => x(d[0])).y(d => y(d[1]))(row.fit))
    .attr("stroke", "#9a9a9a").attr("stroke-width", 1.5).attr("fill", "none");

  vText(L.tx, L.ty, yTitles[i], i === 4 ? 22 : 24);
  hText(L.rx, L.r1, rStats[i], 16, "normal", 1.32);
  hText(L.rx, L.r2, pScatter[i], 16, "normal", 1.32);

  // ---- adjusted mean panel ----
  const R = row.R;
  const cx = d3.scalePoint().domain(categories).range([R.ax, R.right]).padding(0.6);
  const ry = linY(R);

  const gcx = svg.append("g").attr("transform", `translate(0,${R.bot})`)
    .call(d3.axisBottom(cx).tickSizeOuter(0).tickSize(last ? 15 : 9).tickFormat(d => last ? d : ""));
  styleAxis(gcx);
  gcx.selectAll(".tick line").attr("y1", last ? 1 : -6);
  if (last) bottomLabels(gcx, 21, "normal", 1.3, 42.3);

  const gry = svg.append("g").attr("transform", `translate(${R.ax},0)`)
    .call(d3.axisLeft(ry).tickValues(row.at).tickSizeOuter(0).tickSize(8).tickFormat(d => String(d)));
  styleAxis(gry);
  leftLabels(gry, 12.5, 1.35, 14);

  const [mean, lo, hi] = row.adj;
  const eb = svg.append("g").selectAll("g").data(categories).join("g");
  eb.append("line").attr("x1", c => cx(c)).attr("x2", c => cx(c))
    .attr("y1", (c, j) => ry(lo[j])).attr("y2", (c, j) => ry(hi[j]))
    .attr("stroke", INK).attr("stroke-width", 2.6);
  eb.append("line").attr("x1", c => cx(c) - 9.5).attr("x2", c => cx(c) + 9.5)
    .attr("y1", (c, j) => ry(lo[j])).attr("y2", (c, j) => ry(lo[j]))
    .attr("stroke", INK).attr("stroke-width", 2.6);
  eb.append("line").attr("x1", c => cx(c) - 9.5).attr("x2", c => cx(c) + 9.5)
    .attr("y1", (c, j) => ry(hi[j])).attr("y2", (c, j) => ry(hi[j]))
    .attr("stroke", INK).attr("stroke-width", 2.6);
  eb.append("ellipse").attr("cx", c => cx(c)).attr("cy", (c, j) => ry(mean[j]))
    .attr("rx", 4.8).attr("ry", 4.3).attr("fill", "none").attr("stroke", INK).attr("stroke-width", 1.6);

  vText(R.tx, R.ty, adjTitles[i], 24);
  hText(R.px, R.py, pAdjusted[i], 16, "normal", 1.32);
});

hText(425, 1789, xTitle, 20, "bold", 1.26, "middle");
</script>
</body></html>
